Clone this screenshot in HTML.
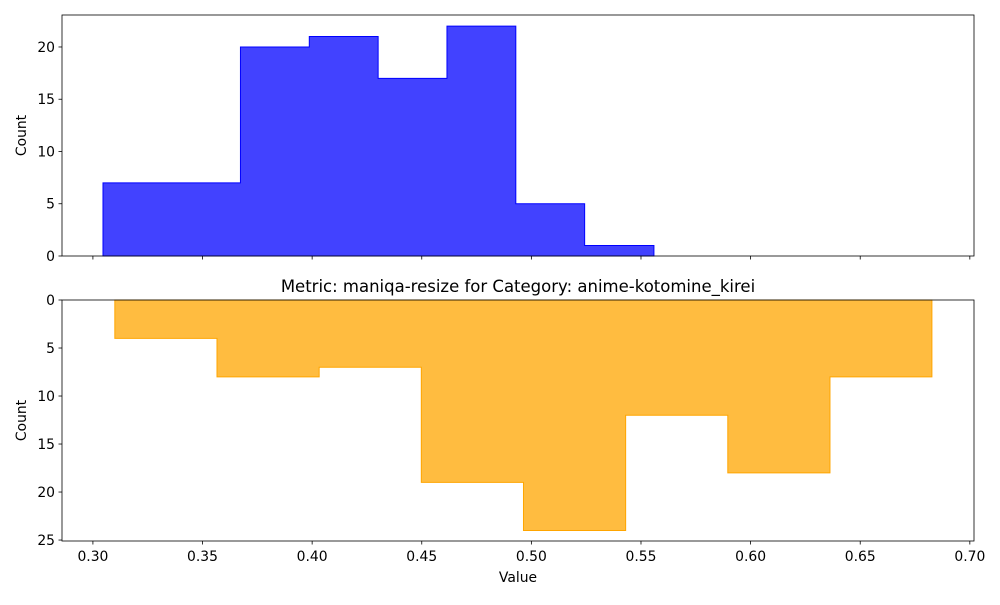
<!DOCTYPE html>
<html><head><meta charset="utf-8"><style>
body{margin:0;background:#fff;font-family:"Liberation Sans",sans-serif}
svg text{font-family:"DejaVu Sans","Liberation Sans",sans-serif;font-size:13.9px;fill:#000}
svg text.title{font-size:16.5px}
</style></head><body>
<svg id="c" width="1000" height="600"></svg>
<script>
const topEdges=[0.3046,0.3360,0.3673,0.3987,0.4301,0.4615,0.4929,0.5243,0.5559];
const topCounts=[7,7,20,21,17,22,5,1];
const botEdges=[0.3100,0.3566,0.4032,0.4498,0.4964,0.5430,0.5896,0.6362,0.6827];
const botCounts=[4,8,7,19,24,12,18,8];
const xTicks=[0.30,0.35,0.40,0.45,0.50,0.55,0.60,0.65,0.70];
const topYTicks=[0,5,10,15,20];
const botYTicks=[0,5,10,15,20,25];
const NS="http://www.w3.org/2000/svg";
const svg=document.getElementById('c');
const L=62,R=974,xmin=0.2859,xmax=0.7019;
const X=v=>L+(v-xmin)/(xmax-xmin)*(R-L);
function mk(t,a,p){const e=document.createElementNS(NS,t);for(const k in a)e.setAttribute(k,a[k]);(p||svg).appendChild(e);return e;}
function panel(name,top,bot,ymax,inverted,edges,counts,fill,stroke,yt,xlabels){
  const Y=inverted?(v=>top+v/ymax*(bot-top)):(v=>bot-v/ymax*(bot-top));
  const g=mk('g',{});
  
  
  let d='M'+X(edges[0])+','+Y(0);
  counts.forEach((c,i)=>{d+=' L'+X(edges[i])+','+Y(c)+' L'+X(edges[i+1])+','+Y(c);});
  d+=' L'+X(edges[edges.length-1])+','+Y(0)+' Z';
  const p=mk('path',{d:d,fill:fill,stroke:stroke,'stroke-width':1},g);
  
  
  const f=mk('rect',{x:L,y:top,width:R-L,height:bot-top,fill:'none',stroke:'#000','stroke-width':0.8},g);
  
  
  yt.forEach(v=>{
    mk('line',{x1:L-3.5,x2:L,y1:Y(v),y2:Y(v),stroke:'#000','stroke-width':0.8},g);
    const t=mk('text',{x:L-7,y:Y(v)+5,'text-anchor':'end'},g);t.textContent=v;
    
    
  });
  xTicks.forEach(v=>{
    mk('line',{x1:X(v),x2:X(v),y1:bot,y2:bot+3.5,stroke:'#000','stroke-width':0.8},g);
    if(xlabels){const t=mk('text',{x:X(v),y:bot+20,'text-anchor':'middle'},g);t.textContent=v.toFixed(2);
      
      }
  });
  const yl=mk('text',{x:0,y:0,'text-anchor':'middle',transform:`translate(26,${(top+bot)/2}) rotate(-90)`},g);
  yl.textContent='Count';
  
  
}
panel('top-histogram',15,256,23.06,false,topEdges,topCounts,'rgba(0,0,255,0.74)','#0000ff',topYTicks,false);
panel('bottom-histogram',300,541,25.1,true,botEdges,botCounts,'rgba(255,165,0,0.75)','#ffa500',botYTicks,true);
const tt=mk('text',{x:518,y:292,'text-anchor':'middle','class':'title'});
tt.textContent='Metric: maniqa-resize for Category: anime-kotomine_kirei';


const xl=mk('text',{x:518,y:582,'text-anchor':'middle'});
xl.textContent='Value';


</script>
</body></html>
